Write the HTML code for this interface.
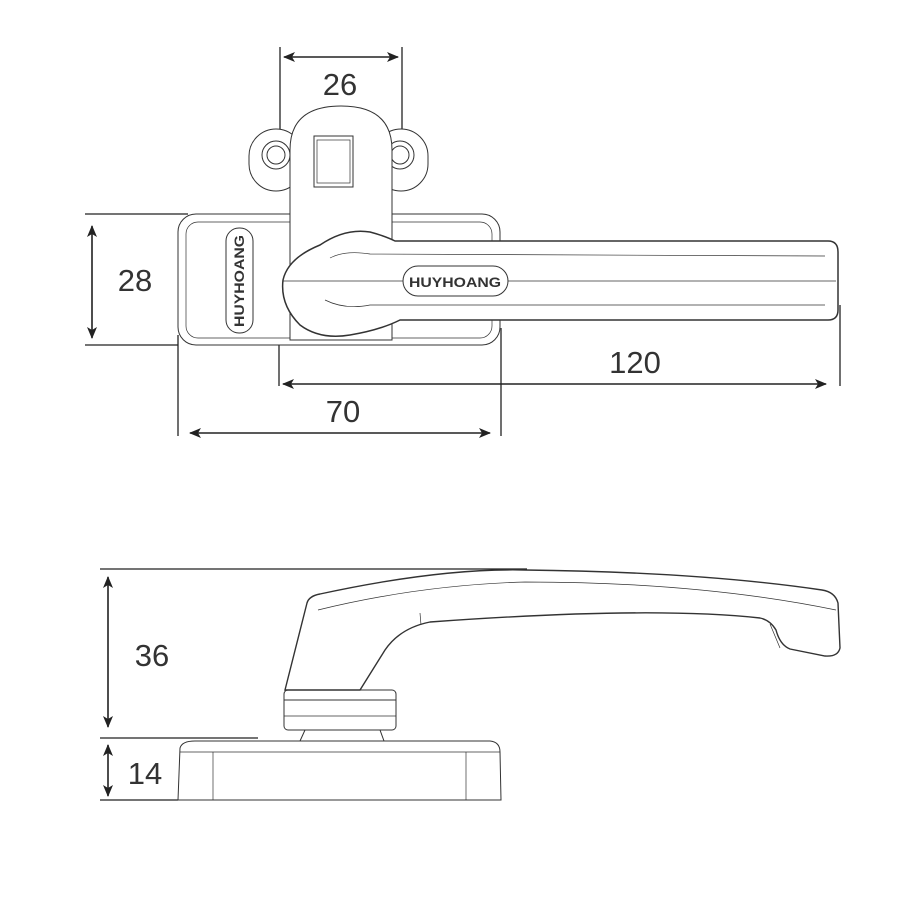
<!DOCTYPE html>
<html><head><meta charset="utf-8"><style>html,body{margin:0;padding:0;background:#fff}svg{display:block}</style></head>
<body>
<svg width="900" height="900" viewBox="0 0 900 900" xmlns="http://www.w3.org/2000/svg" font-family="Liberation Sans, sans-serif">
<defs>
<marker id="a" viewBox="0 0 12 10" refX="11" refY="5" markerWidth="12" markerHeight="10" orient="auto-start-reverse" markerUnits="userSpaceOnUse"><path d="M0,0 L12,5 L0,10 L3,5 Z" fill="#222"/></marker>
</defs>
<g stroke="#222" stroke-width="1.3" fill="none">
<!-- dims top -->
<line x1="280" y1="47" x2="280" y2="165"/><line x1="402" y1="47" x2="402" y2="165"/>
<line x1="284" y1="57" x2="398" y2="57" marker-start="url(#a)" marker-end="url(#a)" stroke-width="1.6"/>
<line x1="85" y1="214" x2="188" y2="214"/><line x1="85" y1="345" x2="178" y2="345"/>
<line x1="92" y1="226" x2="92" y2="338" marker-start="url(#a)" marker-end="url(#a)" stroke-width="1.6"/>
<line x1="279" y1="298" x2="279" y2="386"/><line x1="840" y1="305" x2="840" y2="386"/>
<line x1="283" y1="384" x2="826" y2="384" marker-start="url(#a)" marker-end="url(#a)" stroke-width="1.6"/>
<line x1="178" y1="335" x2="178" y2="436"/><line x1="501" y1="328" x2="501" y2="436"/>
<line x1="190" y1="433" x2="490" y2="433" marker-start="url(#a)" marker-end="url(#a)" stroke-width="1.6"/>
</g>
<g fill="#333" font-size="31" text-anchor="middle">
<text x="340" y="95">26</text><text x="135" y="291">28</text><text x="635" y="373">120</text><text x="343" y="422">70</text>
<text x="152" y="666">36</text><text x="145" y="784">14</text>
</g>
<!-- top view object -->
<g stroke="#333" stroke-width="1" fill="#fff">
<rect x="249" y="129" width="54" height="62" rx="27"/><rect x="374" y="129" width="54" height="62" rx="27"/>
<circle cx="276" cy="155" r="14"/><circle cx="276" cy="155" r="9"/>
<circle cx="400" cy="155" r="14"/><circle cx="400" cy="155" r="9"/>
<rect x="178" y="214" width="322" height="131" rx="18"/>
<rect x="186" y="222" width="306" height="116" rx="12" fill="none" stroke-width="0.7"/>
<rect x="226" y="228" width="27" height="105" rx="13"/>
<path d="M290,340 L290,150 Q290,106 341,106 Q392,106 392,150 L392,340 Z"/>
<rect x="314" y="136" width="39" height="51"/><rect x="317" y="140" width="33" height="43" fill="none" stroke-width="0.7"/>
<path d="M320,245 Q345,228 370,232 Q385,236 395,241 L828,241 Q838,241 838,252 L838,310 Q838,320 828,320 L400,320 Q380,330 350,335 Q320,340 300,325 Q280,305 283,280 Q288,258 320,245 Z" stroke-width="1.5"/>
<path d="M330,258 Q345,250 370,254 L825,256 M325,300 Q345,310 370,305 L825,305" fill="none" stroke-width="0.7"/>
<line x1="283" y1="281" x2="836" y2="281" stroke-width="0.7"/>
<rect x="403" y="266" width="105" height="30" rx="15"/>
</g>
<g fill="#333" font-size="14" font-weight="bold" text-anchor="middle" stroke="#fff" stroke-width="0">
<text x="455" y="287" textLength="92" lengthAdjust="spacingAndGlyphs">HUYHOANG</text>
<text transform="translate(244,281) rotate(-90)" textLength="92" lengthAdjust="spacingAndGlyphs">HUYHOANG</text>
</g>
<!-- side view -->
<g stroke="#222" stroke-width="1.3" fill="none">
<line x1="100" y1="569" x2="527" y2="569"/>
<line x1="108" y1="577" x2="108" y2="727" marker-start="url(#a)" marker-end="url(#a)" stroke-width="1.6"/>
<line x1="100" y1="738" x2="258" y2="738"/>
<line x1="108" y1="745" x2="108" y2="796" marker-start="url(#a)" marker-end="url(#a)" stroke-width="1.6"/>
<line x1="100" y1="800" x2="178" y2="800"/>
</g>
<g stroke="#333" stroke-width="1" fill="#fff">
<path d="M178,800 L180,748 Q182,741 195,741 L490,741 Q500,742 500,752 L501,800 Z"/>
<line x1="180" y1="752" x2="500" y2="752" stroke-width="0.7"/>
<line x1="213" y1="752" x2="213" y2="800" stroke-width="0.7"/><line x1="466" y1="752" x2="466" y2="800" stroke-width="0.7"/>
<path d="M300,741 L305,730 L380,730 L384,741 Z"/>
<rect x="284" y="690" width="112" height="40" rx="4"/>
<line x1="284" y1="700" x2="396" y2="700"/><line x1="284" y1="716" x2="396" y2="716" stroke-width="0.7"/>
<path d="M285,690 L307,603 Q309,596 320,594 Q440,568 525,570 Q700,572 822,590 Q835,592 838,603 L840,648 Q838,657 825,656 L790,649 Q780,645 776,630 Q770,620 760,618 Q650,606 430,622 Q400,628 385,650 L360,690 Z" stroke-width="1.4"/>
<path d="M318,610 Q420,585 525,582 Q700,582 836,610" fill="none" stroke-width="0.7"/>
<path d="M420,613 L421,625 M770,624 L780,648" fill="none" stroke-width="0.7"/>
</g>
</svg>
</body></html>
